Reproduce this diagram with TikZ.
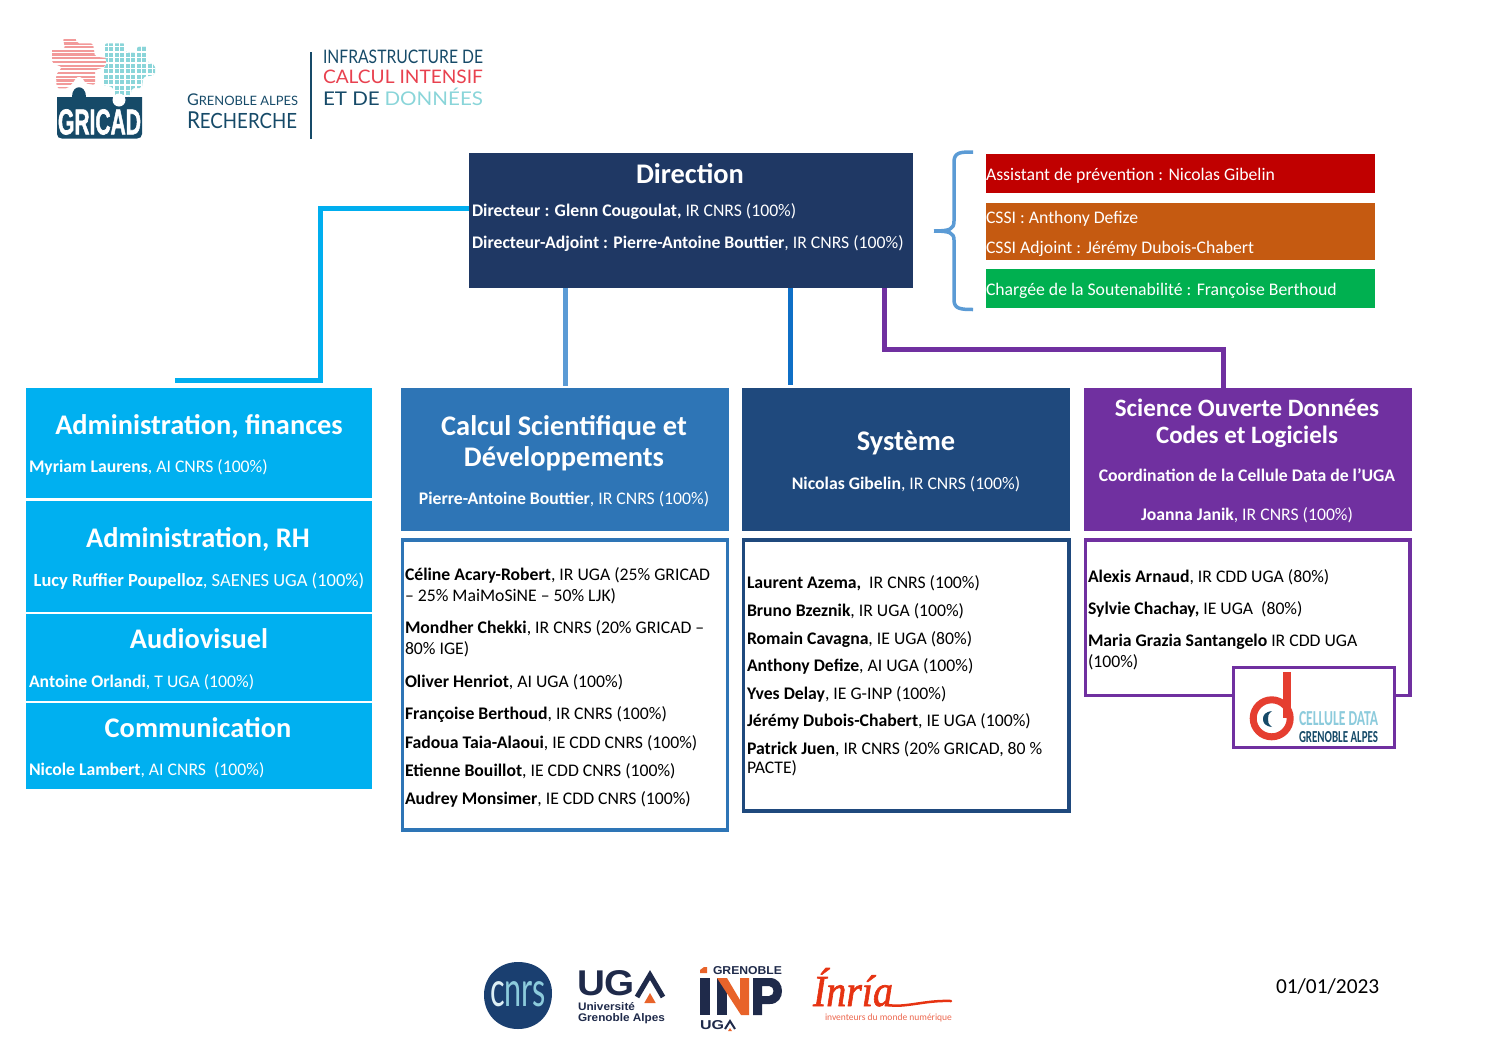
\documentclass[tikz,border=0pt]{standalone}
\usepackage{fontspec}
\usepackage{graphicx}
\setmainfont{Carlito}
\newfontfamily\lato{Lato}
\newfontfamily\heros{Liberation Sans}
\newfontfamily\gricf[FakeBold=2]{Liberation Sans Bold}
\newfontfamily\inriaf[FakeBold=1.5]{Liberation Serif Italic}
\definecolor{dirblue}{HTML}{1F3864}
\definecolor{cyanb}{HTML}{00B0F0}
\definecolor{calcb}{HTML}{2E75B6}
\definecolor{sysb}{HTML}{1F497D}
\definecolor{purp}{HTML}{7030A0}
\definecolor{redb}{HTML}{C00000}
\definecolor{orangeb}{HTML}{C55A11}
\definecolor{greenb}{HTML}{00B050}
\definecolor{braceb}{HTML}{5B9BD5}
\definecolor{linkc}{HTML}{00AEEF}
\definecolor{linkd}{HTML}{0F6FC6}
\definecolor{navy}{HTML}{164A68}
\definecolor{pinkl}{HTML}{F29A9A}
\definecolor{tealp}{HTML}{8AD5D9}
\definecolor{redl}{HTML}{E8414F}
\definecolor{ugan}{HTML}{1F2A4A}
\definecolor{ugao}{HTML}{E8632A}
\definecolor{inr}{HTML}{E63312}
\definecolor{celr}{HTML}{E53E30}
\definecolor{cell}{HTML}{8CCBDC}
\definecolor{cnrsb}{HTML}{1A3F70}
\tikzset{
 x=1pt,y=-1pt,
 fbox/.style={inner sep=0,outer sep=0,minimum width=0},
 tx/.style={anchor=west,inner sep=0,outer sep=0,align=left,yshift=-1.5pt,font=\fontsize{17.7}{21}\selectfont},
 txw/.style={tx,text=white},
 ttl/.style={anchor=center,inner sep=0,outer sep=0,align=center,yshift=-1.5pt,text=white,font=\fontsize{28.4}{31}\selectfont\bfseries},
 ctr/.style={anchor=center,inner sep=0,outer sep=0,align=center,yshift=-1.5pt,text=white,font=\fontsize{17.7}{21}\selectfont},
 lg/.style={anchor=west,inner sep=0,outer sep=0},
 lgb/.style={anchor=base west,inner sep=0,outer sep=0},
 link/.style={line width=5pt},
 listbox/.style={draw,fill=white,line width=3.5pt},
}
\begin{document}
\begin{tikzpicture}
\useasboundingbox (0,0) rectangle (1497,1058);
% boxes
\fill[dirblue] (469,153) rectangle (913,288) node[pos=.5,fbox] (dir) {};
\coordinate (dirW) at (469,208);
\coordinate (dirA) at (565,288);
\coordinate (dirB) at (790,288);
\coordinate (dirC) at (884,288);
\coordinate (k1) at (320,208);
\coordinate (k2) at (320,380);
\coordinate (adminEnd) at (175,380);
\coordinate (calcT) at (565,386);
\coordinate (sysT) at (790,385);
\coordinate (k3) at (884,349);
\coordinate (k4) at (1223,349);
\coordinate (sciT) at (1223,388);
\draw[linkc,link] (dirW) -- (k1) -- (k2) -- (adminEnd);
\draw[braceb,link] (dirA) -- (calcT);
\draw[linkd,link] (dirB) -- (sysT);
\draw[purp,link] (dirC) -- (k3) -- (k4) -- (sciT);
\fill[redb] (986,154) rectangle (1375,193);
\fill[orangeb] (986,203) rectangle (1375,260);
\fill[greenb] (986,269) rectangle (1375,308);
\fill[cyanb] (26,388) rectangle (372,498);
\fill[cyanb] (26,501) rectangle (372,612);
\fill[cyanb] (26,614) rectangle (372,701);
\fill[cyanb] (26,703) rectangle (372,789);
\fill[calcb] (401,388) rectangle (729,531);
\fill[sysb] (742,388) rectangle (1070,531);
\fill[purp] (1084,388) rectangle (1412,531);
\draw[listbox,draw=calcb] (402.5,540) rectangle (727.5,830);
\draw[listbox,draw=sysb] (743.5,540) rectangle (1069,811);
\draw[listbox,draw=purp] (1085.5,540) rectangle (1410,695.5);
% brace
\draw[braceb,line width=3.5pt] (973,152) .. controls (961,152) and (954,152) .. (954,162) -- (954,221) .. controls (954,229) and (950,231) .. (934,231);
\draw[braceb,line width=3.5pt] (973,309.5) .. controls (961,309.5) and (954,309) .. (954,300) -- (954,240) .. controls (954,233) and (950,231) .. (934,231);
% Direction text
\node[ttl] (dirT) at (690,172) {Direction};
\node[txw] (dir1) at (472,210) {\textbf{Directeur : Glenn Cougoulat,} IR CNRS (100\%)};
\node[txw] (dir2) at (472,242) {\textbf{Directeur-Adjoint : Pierre-Antoine Bouttier}, IR CNRS (100\%)};
% side
\node[txw] (s1) at (986,174) {Assistant de prévention : Nicolas Gibelin};
\node[txw] (s2) at (986,217) {CSSI : Anthony Defize};
\node[txw] (s3) at (986,247) {CSSI Adjoint : Jérémy Dubois-Chabert};
\node[txw] (s4) at (986,289) {Chargée de la Soutenabilité : Françoise Berthoud};
% left column
\node[ttl] (a1) at (199,425) {Administration, finances};
\node[txw] (a1t) at (29,466) {\textbf{Myriam Laurens}, AI CNRS (100\%)};
\node[ttl] (a2) at (198,538) {Administration, RH};
\node[ctr,font=\fontsize{18.5}{21}\selectfont] (a2t) at (199,580) {\textbf{Lucy Ruffier Poupelloz}, SAENES UGA (100\%)};
\node[ttl] (a3) at (199,637) {Audiovisuel};
\node[txw] (a3t) at (29,681) {\textbf{Antoine Orlandi}, T UGA (100\%)};
\node[ttl] (a4) at (198,726) {Communication};
\node[txw] (a4t) at (29,769) {\textbf{Nicole Lambert}, AI CNRS\ \ (100\%)};
% Calcul
\node[ttl] (c0) at (564,442) {Calcul Scientifique et\\[0pt]Développements};
\node[ctr] (c0t) at (564,498) {\textbf{Pierre-Antoine Bouttier}, IR CNRS (100\%)};
\node[tx] (c1) at (405,584) {\textbf{Céline Acary-Robert}, IR UGA (25\% GRICAD\\– 25\% MaiMoSiNE – 50\% LJK)};
\node[tx] (c2) at (405,637.5) {\textbf{Mondher Chekki}, IR CNRS (20\% GRICAD –\\80\% IGE)};
\node[tx] (c3) at (405,681) {\textbf{Oliver Henriot}, AI UGA (100\%)};
\node[tx] (c4) at (405,713) {\textbf{Françoise Berthoud}, IR CNRS (100\%)};
\node[tx] (c5) at (405,742) {\textbf{Fadoua Taia-Alaoui}, IE CDD CNRS (100\%)};
\node[tx] (c6) at (405,770) {\textbf{Etienne Bouillot}, IE CDD CNRS (100\%)};
\node[tx] (c7) at (405,798) {\textbf{Audrey Monsimer}, IE CDD CNRS (100\%)};
% Systeme
\node[ttl] (y0) at (906,441) {Système};
\node[ctr] (y0t) at (906,483) {\textbf{Nicolas Gibelin}, IR CNRS (100\%)};
\node[tx] (y1) at (747,582) {\textbf{Laurent Azema,}\ \ IR CNRS (100\%)};
\node[tx] (y2) at (747,610) {\textbf{Bruno Bzeznik}, IR UGA (100\%)};
\node[tx] (y3) at (747,638) {\textbf{Romain Cavagna}, IE UGA (80\%)};
\node[tx] (y4) at (747,665) {\textbf{Anthony Defize}, AI UGA (100\%)};
\node[tx] (y5) at (747,693) {\textbf{Yves Delay}, IE G-INP (100\%)};
\node[tx] (y6) at (747,720) {\textbf{Jérémy Dubois-Chabert}, IE UGA (100\%)};
\node[tx] (y7) at (747,757) {\textbf{Patrick Juen}, IR CNRS (20\% GRICAD, 80 \%\\[-2pt]PACTE)};
% Science
\node[anchor=center,inner sep=0,align=center,text=white,font=\fontsize{25}{27}\selectfont\bfseries] (o0) at (1247,423) {Science Ouverte Données\\Codes et Logiciels};
\node[ctr] (o1) at (1247,474) {\textbf{Coordination de la Cellule Data de l’UGA}};
\node[ctr] (o2) at (1247,514) {\textbf{Joanna Janik}, IR CNRS (100\%)};
\node[tx] (o3) at (1088,576) {\textbf{Alexis Arnaud}, IR CDD UGA (80\%)};
\node[tx] (o4) at (1088,608) {\textbf{Sylvie Chachay,} IE UGA\ \ (80\%)};
\node[tx] (o5) at (1088,650.5) {\textbf{Maria Grazia Santangelo} IR CDD UGA\\(100\%)};
% Cellule data logo
\draw[purp,line width=3pt,fill=white] (1233.5,667) rectangle (1394.5,747);
\draw[celr,line width=7pt] (1271.7,718.3) circle (18.5);
\fill[celr] (1283,672) rectangle (1291,718);
\fill[navy] (1272,711) .. controls (1265,712) and (1263,715) .. (1263,719) .. controls (1263,723) and (1265,726) .. (1272,727) .. controls (1268,724) and (1268,722) .. (1268,719) .. controls (1268,716) and (1268,714) .. (1272,711) -- cycle;
\node[lg] (cd1) at (1299,719) {\resizebox{79pt}{14pt}{\textcolor{cell}{\bfseries CELLULE DATA}}};
\node[lg] (cd2) at (1299,737) {\resizebox{79pt}{11pt}{\textcolor{navy}{\bfseries GRENOBLE ALPES}}};
% GRICAD logo
\begin{scope}
\clip[rounded corners=2pt] (63,38.3) -- (75,36.7) -- (77,43.3) -- (93,43.3) -- (95,56.7) -- (107,58) -- (105,67) -- (95,70) -- (95,85) -- (85,83.3) .. controls (83,76) and (77,76) .. (75,80) -- (68,88.3) -- (56.7,88.3) -- (56,75) -- (62,67) -- (52,63) -- (52,48.3) -- (65,48.3) -- cycle;
\foreach \yy in {36,39.7,...,90} \draw[pinkl,line width=2.2pt] (50,\yy) -- (110,\yy);
\end{scope}
\begin{scope}
\clip[rounded corners=2pt] (105,43.3) -- (125,43.3) -- (125,52) -- (137,53) -- (137,46.7) -- (148,46.7) -- (147,62) -- (155,65) -- (155,75) -- (143,77) -- (142,88) -- (132,88) -- (130,97) -- (115,97) -- (113,87) -- (102,85) -- (103,70) -- (107,63) -- (105,57) -- cycle;
\foreach \xx in {100,105.5,...,158} \draw[tealp,line width=4pt] (\xx,40) -- (\xx,100);
\foreach \yy in {41,46.5,...,100} \draw[white,line width=1.5pt] (100,\yy) -- (158,\yy);
\end{scope}
\fill[navy] (57,97) -- (72,97) .. controls (72,84) and (86,84) .. (86,97) -- (142,97) -- (142,134) .. controls (142,137) and (140,138.5) .. (137,138.5) -- (62,138.5) .. controls (59,138.5) and (57,137) .. (57,134) -- cycle;
\fill[white] (119,100) circle (6.5);
\node[anchor=center,inner sep=0] (gric) at (99.5,122) {\resizebox{83pt}{25pt}{\textcolor{white}{\gricf GRICAD}}};
\node[lgb] (gr1) at (187,105) {\resizebox{111pt}{11.7pt}{\textcolor{navy}{\lato G{\footnotesize RENOBLE ALPES}}}};
\node[lgb] (gr2) at (187,128.3) {\resizebox{110pt}{16.7pt}{\textcolor{navy}{\lato R{\small ECHERCHE}}}};
\draw[navy,line width=1.5pt] (311,52) -- (311,139);
\node[lgb] (i1) at (323,63.3) {\resizebox{160pt}{13.5pt}{\textcolor{navy}{\lato INFRASTRUCTURE DE}}};
\node[lgb] (i2) at (323,83.5) {\resizebox{160pt}{13.5pt}{\textcolor{redl}{\lato CALCUL INTENSIF}}};
\node[lgb] (i3) at (323,105) {\resizebox{160pt}{17.5pt}{\textcolor{navy}{\lato ET DE} \textcolor{tealp}{\lato DONNÉES}}};
% CNRS logo
\fill[cnrsb] (484,995) .. controls (484,975) and (500,962) .. (518,962) .. controls (538,962) and (552,975) .. (552,993) .. controls (552,1014) and (538,1029) .. (518,1029) .. controls (498,1029) and (484,1014) .. (484,995) -- cycle;
\node[anchor=center,inner sep=0] (cnrs) at (518,994.5) {\resizebox{56pt}{25pt}{\lato\textcolor{white!70!cell}{c}\textcolor{cell}{nrs}}};
% UGA logo
\node[lg] (uga) at (577,983) {\resizebox{58pt}{25pt}{\textcolor{ugan}{\heros\bfseries UG}}};
\draw[ugan,line width=5pt] (637,997) -- (650,975) -- (663,997);
\fill[ugao] (644.3,1003) -- (650,993) -- (655.7,1003) -- cycle;
\node[lgb] (uga1) at (578,1010) {\resizebox{57pt}{8pt}{\textcolor{ugan}{\heros\bfseries Université}}};
\node[lgb] (uga2) at (578,1021) {\resizebox{87pt}{8pt}{\textcolor{ugan}{\heros\bfseries Grenoble Alpes}}};
% INP logo
\fill[ugao] (700,973) -- (700,970) -- (704,967) -- (707,967) -- (707,973) -- cycle;
\node[lg] (inp0) at (713,971) {\resizebox{69pt}{8pt}{\textcolor{ugan}{\heros\bfseries GRENOBLE}}};
\fill[ugan] (700,978) rectangle (710,1015);
\fill[ugan] (717,978) rectangle (727,1015);
\fill[ugao] (717,978) -- (727,978) -- (740,1000) -- (740,978) -- (749,978) -- (749,1015) -- (741,1015) -- cycle;
\fill[ugan,even odd rule] (753,978) -- (770,978) .. controls (786,978) and (786,1004) .. (770,1004) -- (762,1004) -- (762,1015) -- (753,1015) -- cycle (762,986) -- (762,996) -- (769,996) .. controls (775,996) and (775,986) .. (769,986) -- cycle;
\node[lg] (inp1) at (700,1025) {\resizebox{24pt}{9pt}{\textcolor{ugan}{\heros\bfseries UG}}};
\draw[ugan,line width=2pt] (725,1029) -- (730,1021) -- (735,1029);
\fill[ugao] (728,1031) -- (730,1028) -- (732,1031) -- cycle;
% Inria logo
\node[lgb] (inr0) at (813,1006) {\resizebox{80pt}{38pt}{\textcolor{inr}{\inriaf Ínría}}};
\draw[inr,line width=2.5pt,line cap=round] (888,1005) .. controls (905,1008) and (925,1000) .. (951,1001);
\node[lgb] (inr1) at (825,1020) {\resizebox{127pt}{!}{\textcolor{inr!75}{inventeurs du monde numérique}}};
% date
\node[tx,font=\fontsize{21.4}{25}\selectfont] (date) at (1276,985) {01/01/2023};
\end{tikzpicture}
\end{document}
